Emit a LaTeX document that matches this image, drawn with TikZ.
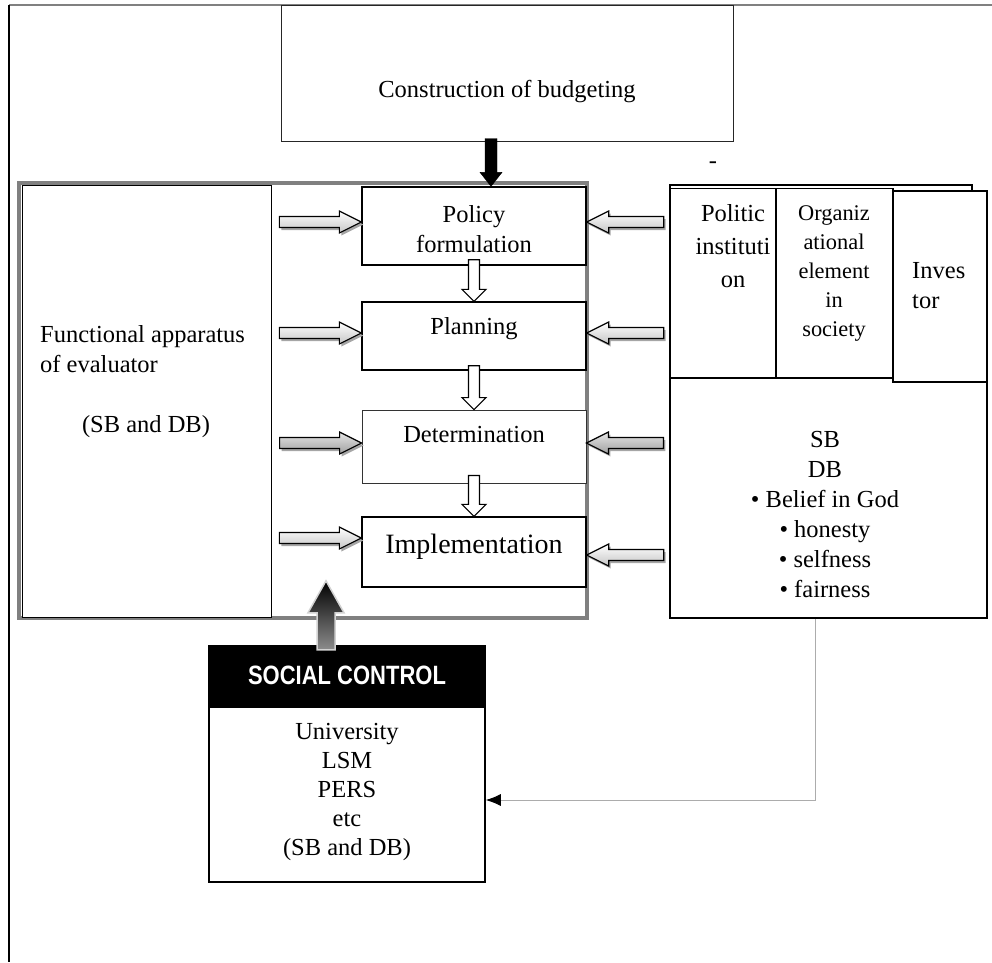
\documentclass[tikz,border=0pt]{standalone}
\usepackage{fontspec}
\setmainfont{Liberation Serif}
\setsansfont{Liberation Sans}
\usepackage{graphicx}
\usetikzlibrary{calc,shadows,arrows.meta,positioning}

\tikzset{
	bshaft/.store in=\bshaft, bhead/.store in=\bhead, blen/.store in=\blen,
	bshaft=5.5pt, bhead=11pt, blen=22pt,
	blockarr/.style={to path={let \p1=(\tikztostart), \p2=(\tikztotarget),
			\p3=($(\p2)!\blen!(\p1)$) in
			($(\p1)!\bshaft!90:(\p2)$) -- ($(\p3)!\bshaft!-90:(\p1)$)
			-- ($(\p3)!\bhead!-90:(\p1)$) -- (\p2)
			-- ($(\p3)!\bhead!90:(\p1)$) -- ($(\p3)!\bshaft!90:(\p1)$)
			-- ($(\p1)!\bshaft!-90:(\p2)$) -- cycle}},
	box/.style={draw, line width=1.3pt, inner sep=0pt, fill=white},
	txt/.style={inner sep=0pt, align=center},
	harr/.style={blockarr, draw, line width=1.2pt, top color=white, bottom color=gray!45,
		drop shadow={shadow xshift=2pt, shadow yshift=-2.5pt, fill=gray!70, opacity=1}},
	harrdark/.style={harr, top color=gray!20, bottom color=gray!75},
	varr/.style={blockarr, draw, line width=1.2pt, fill=white, bshaft=5.5pt, bhead=12pt, blen=12pt},
	blackarr/.style={blockarr, draw, fill=black, bshaft=6pt, bhead=11pt, blen=14pt},
	uparr/.style={blockarr, draw=gray!35, line width=1.5pt, bshaft=9pt, bhead=18pt, blen=32pt,
		top color=black, middle color=black, bottom color=gray!90},
	feedback/.style={draw=gray!65, line width=1pt, -{Latex[black,length=15pt,width=12pt]}}
}

\begin{document}
\begin{tikzpicture}[x=1pt,y=-1pt,font=\fontsize{24.5}{30}\selectfont]
	\useasboundingbox (0,0) rectangle (992,962);
	
	%Page frame
	\draw[gray, line width=1.5pt] (9,5) -- (992,5);
	\draw[line width=1.2pt] (9,5) -- (9,962);
	
	%Construction of budgeting
	\node[box, draw=black!85, line width=1pt, minimum width=452pt, minimum height=136pt] (construct) at (507,73) {};
	\node[txt, anchor=base] (constructtxt) at (507,97) {Construction of budgeting};
	
	%Evaluation panel
	\node[draw=gray, line width=4pt, minimum width=568pt, minimum height=435pt] (panel) at (303,400.5) {};
	\node[box, line width=1pt, minimum width=249pt, minimum height=432pt] (func) at (146.5,401) {};
	\node[txt, align=left, anchor=north west] (functxt) at (40,325.5) {Functional apparatus\\of evaluator};
	\node[txt, anchor=base] (funcsb) at (146,432) {(SB and DB)};
	
	%Stages
	\node[box, minimum width=224pt, minimum height=78pt] (policy) at (474,226) {};
	\node[box, minimum width=224pt, minimum height=68pt] (planning) at (474,336) {};
	\node[box, line width=0.8pt, draw=black!80, minimum width=224pt, minimum height=73pt] (determ) at (474,446.5) {};
	\node[box, minimum width=224pt, minimum height=70pt] (impl) at (474,552) {};
	\node[txt, anchor=north] (policytxt) at (474,205.5) {Policy\\formulation};
	\node[txt, anchor=base] (plantxt) at (474,334) {Planning};
	\node[txt, anchor=base] (determtxt) at (474,442) {Determination};
	\node[txt, anchor=base, font=\fontsize{28}{32}\selectfont] (impltxt) at (474,553) {Implementation};
	
	%Stage to stage
	\coordinate (d1) at ($(policy.south)+(0,-6)$);
	\coordinate (d2) at ($(planning.south)+(0,-5)$);
	\coordinate (d3) at ($(determ.south)+(0,-8)$);
	\draw[varr] (d1) to (planning.north);
	\draw[varr] (d2) to (determ.north);
	\draw[varr] (d3) to (impl.north);
	
	%Inputs from the left
	\coordinate (la1) at ($(policy.west)+(-82,-4)$);
	\coordinate (la2) at ($(planning.west)+(-82,-3)$);
	\coordinate (la3) at ($(determ.west)+(-82,-3.5)$);
	\coordinate (la4) at ($(impl.west)+(-82,-14)$);
	\draw[harr] (la1) to (la1 -| policy.west);
	\draw[harr] (la2) to (la2 -| planning.west);
	\draw[harrdark] (la3) to (la3 -| determ.west);
	\draw[harr] (la4) to (la4 -| impl.west);
	
	%Inputs from the right
	\coordinate (ra1) at ($(policy.east)+(77,-4)$);
	\coordinate (ra2) at ($(planning.east)+(77,-3)$);
	\coordinate (ra3) at ($(determ.east)+(77,-3.5)$);
	\coordinate (ra4) at ($(impl.east)+(77,3)$);
	\draw[harr] (ra1) to (ra1 -| policy.east);
	\draw[harr] (ra2) to (ra2 -| planning.east);
	\draw[harrdark] (ra3) to (ra3 -| determ.east);
	\draw[harr] (ra4) to (ra4 -| impl.east);
	
	%Budget down to policy
	\coordinate (bk) at ($(construct.south)+(-16,-3)$);
	\draw[blackarr] (bk) to (bk |- policy.north);
	
	%Actors and values
	\node[box, line width=1.5pt, minimum width=317pt, minimum height=241pt] (rightbox) at (828.5,497.5) {};
	\node[box, line width=1.5pt, minimum width=302pt, minimum height=193pt] (group) at (821,281.5) {};
	\node[box, line width=1.5pt, minimum width=106pt, minimum height=189pt] (politic) at (723,283) {};
	\node[box, line width=1.5pt, minimum width=117pt, minimum height=189pt] (organiz) at (834.5,283) {};
	\node[box, line width=1.5pt, minimum width=94pt, minimum height=191pt] (investor) at (940,286.5) {};
	\node[txt, anchor=north, font=\fontsize{24.5}{33}\selectfont] (politictxt) at (733,204.5) {Politic\\instituti\\on};
	\node[txt, anchor=north, font=\fontsize{22.4}{29}\selectfont] (organiztxt) at (834,205) {Organiz\\ational\\element\\in\\society};
	\node[txt, anchor=north west, align=left] (investortxt) at (912,262) {Inves\\tor};
	\node[txt, anchor=north] (valuestxt) at (825,431) {SB\\DB\\• Belief in God\\• honesty\\• selfness\\• fairness};
	\node[txt, anchor=base] (dash) at (713,168) {-};
	
	%Social control
	\node[box, line width=1.5pt, minimum width=276pt, minimum height=236pt] (social) at (347,764) {};
	\node[fill=black, inner sep=0pt, minimum width=276pt, minimum height=62pt] (socialhead) at (347,677) {};
	\node[txt, anchor=base, text=white, font=\fontsize{26.5}{30}\sffamily\bfseries] (socialtxt) at (347,684) {\scalebox{0.83}[1]{SOCIAL CONTROL}};
	\node[txt, anchor=north, font=\fontsize{24.5}{29}\selectfont] (socialbody) at (347,723) {University\\LSM\\PERS\\etc\\(SB and DB)};
	
	\coordinate (uptail) at ($(socialhead.north)+(-21,4)$);
	\coordinate (uptip) at ($(uptail)+(0,-69)$);
	\draw[uparr] (uptail) to (uptip);
	
	%Feedback
	\coordinate (fb) at (815,800);
	\draw[feedback] (fb |- rightbox.south) |- (fb -| social.east);
\end{tikzpicture}
\end{document}
